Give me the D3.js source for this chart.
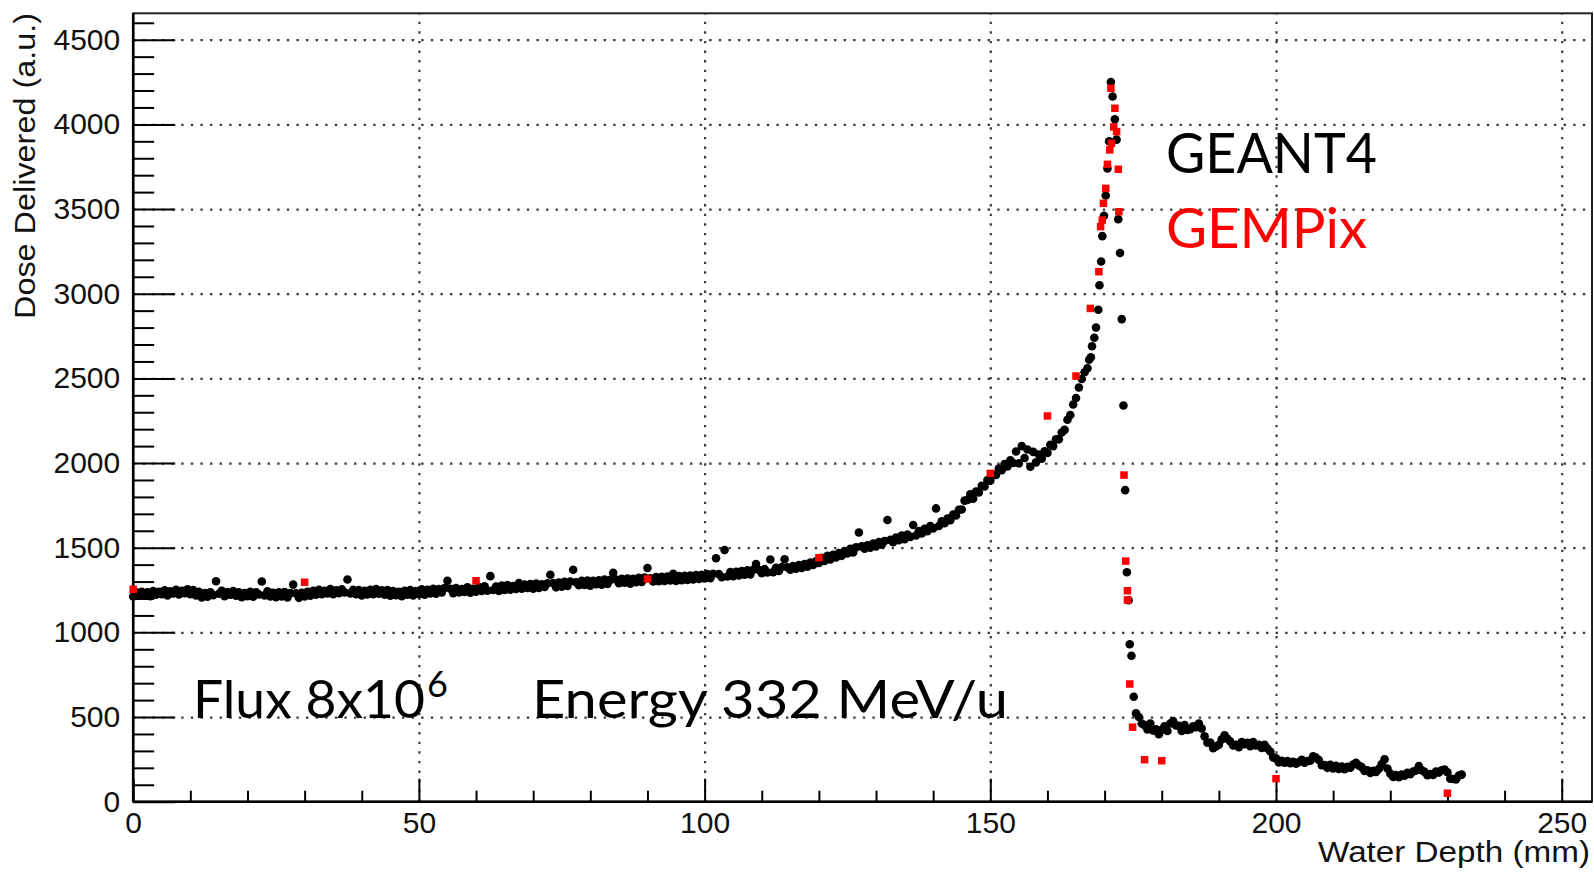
<!DOCTYPE html>
<html>
<head>
<meta charset="utf-8">
<script src="https://cdn.jsdelivr.net/npm/d3@7"></script>
<style>
  html, body { margin: 0; padding: 0; background: #fff; overflow: hidden; }
  svg { display: block; }
</style>
</head>
<body>
<svg id="chart" width="1594" height="872"></svg>
<script>
// ---- axis definitions ----
const xMajorTicks = [0, 50, 100, 150, 200, 250];
const yMajorTicks = [0, 500, 1000, 1500, 2000, 2500, 3000, 3500, 4000, 4500];
const xTitle = "Water Depth (mm)";
const yTitle = "Dose Delivered (a.u.)";

// ---- annotation texts ----
const seriesLabels = ["GEANT4", "GEMPix"];
const fluxLabel = "Flux 8x10";
const fluxExponent = "6";
const energyLabel = "Energy 332 MeV/u";

// ---- GEANT4 simulation: [depth (mm), dose (a.u.)] ----
const geant4 = [
  [0,1212],[0.5,1236],[1,1216],[1.5,1240],[2,1220],[2.5,1236],[3,1214],[3.5,1244],[4,1222],[4.5,1240],
  [5,1226],[5.5,1248],[6,1218],[6.5,1242],[7,1230],[7.5,1252],[8,1224],[8.5,1246],[9,1232],[9.5,1254],
  [10,1226],[10.5,1250],[11,1218],[11.5,1240],[12,1206],[12.5,1232],[13,1210],[13.5,1236],[14,1220],[14.5,1302],
  [15,1228],[15.5,1246],[16,1214],[16.5,1238],[17,1222],[17.5,1244],[18,1216],[18.5,1236],[19,1208],[19.5,1232],
  [20,1214],[20.5,1240],[21,1210],[21.5,1236],[22,1224],[22.5,1300],[23,1218],[23.5,1242],[24,1212],[24.5,1234],
  [25,1208],[25.5,1236],[26,1212],[26.5,1238],[27,1206],[27.5,1232],[28,1282],[28.5,1230],[29,1204],[29.5,1234],
  [30,1212],[30.5,1240],[31,1216],[31.5,1246],[32,1222],[32.5,1252],[33,1226],[33.5,1246],[34,1230],[34.5,1256],
  [35,1226],[35.5,1248],[36,1232],[36.5,1254],[37,1236],[37.5,1312],[38,1230],[38.5,1252],[39,1226],[39.5,1250],
  [40,1218],[40.5,1246],[41,1224],[41.5,1252],[42,1226],[42.5,1256],[43,1228],[43.5,1248],[44,1222],[44.5,1250],
  [45,1216],[45.5,1244],[46,1220],[46.5,1240],[47,1214],[47.5,1246],[48,1222],[48.5,1250],[49,1218],[49.5,1244],
  [50,1226],[50.5,1254],[51,1222],[51.5,1252],[52,1230],[52.5,1258],[53,1228],[53.5,1256],[54,1236],[54.5,1262],
  [55,1305],[55.5,1258],[56,1232],[56.5,1262],[57,1236],[57.5,1256],[58,1238],[58.5,1266],[59,1234],[59.5,1258],
  [60,1240],[60.5,1268],[61,1244],[61.5,1272],[62,1246],[62.5,1332],[63,1250],[63.5,1270],[64,1244],[64.5,1276],
  [65,1250],[65.5,1280],[66,1252],[66.5,1274],[67,1256],[67.5,1292],[68,1258],[68.5,1282],[69,1262],[69.5,1286],
  [70,1258],[70.5,1288],[71,1262],[71.5,1284],[72,1268],[72.5,1290],[73,1340],[73.5,1292],[74,1266],[74.5,1294],
  [75,1270],[75.5,1298],[76,1274],[76.5,1300],[77,1370],[77.5,1296],[78,1278],[78.5,1304],[79,1280],[79.5,1306],
  [80,1276],[80.5,1304],[81,1284],[81.5,1308],[82,1282],[82.5,1312],[83,1286],[83.5,1310],[84,1352],[84.5,1312],
  [85,1290],[85.5,1316],[86,1294],[86.5,1318],[87,1288],[87.5,1316],[88,1296],[88.5,1322],[89,1298],[89.5,1324],
  [90,1380],[90.5,1320],[91,1300],[91.5,1326],[92,1302],[92.5,1328],[93,1304],[93.5,1330],[94,1306],[94.5,1346],
  [95,1304],[95.5,1332],[96,1308],[96.5,1334],[97,1310],[97.5,1336],[98,1312],[98.5,1338],[99,1316],[99.5,1340],
  [100,1318],[100.5,1344],[101,1320],[101.5,1346],[102,1438],[102.5,1344],[103,1326],[103.5,1486],[104,1330],[104.5,1356],
  [105,1332],[105.5,1358],[106,1336],[106.5,1362],[107,1340],[107.5,1366],[108,1342],[108.5,1370],[109,1404],[109.5,1368],
  [110,1350],[110.5,1374],[111,1354],[111.5,1430],[112,1356],[112.5,1382],[113,1362],[113.5,1386],[114,1432],[114.5,1384],
  [115,1370],[115.5,1392],[116,1376],[116.5,1398],[117,1380],[117.5,1404],[118,1388],[118.5,1412],[119,1398],[119.5,1420],
  [120,1410],[120.5,1440],[121,1422],[121.5,1452],[122,1430],[122.5,1458],[123,1442],[123.5,1468],[124,1452],[124.5,1480],
  [125,1466],[125.5,1494],[126,1472],[126.5,1502],[127,1590],[127.5,1508],[128,1494],[128.5,1514],[129,1500],[129.5,1524],
  [130,1508],[130.5,1534],[131,1518],[131.5,1540],[132,1664],[132.5,1546],[133,1532],[133.5,1560],[134,1544],[134.5,1572],
  [135,1550],[135.5,1578],[136,1564],[136.5,1634],[137,1572],[137.5,1598],[138,1584],[138.5,1612],[139,1598],[139.5,1628],
  [140,1614],[140.5,1732],[141,1628],[141.5,1656],[142,1644],[142.5,1672],[143,1662],[143.5,1696],[144,1690],[144.5,1724],
  [145,1726],[145.5,1778],[146,1782],[146.5,1816],[147,1790],[147.5,1832],[148,1826],[148.5,1866],[149,1862],[149.5,1900],
  [150,1896],[150.5,1934],[151,1930],[151.5,1968],[152,1958],[152.5,1994],[153,1980],[153.5,2016],[154,2000],[154.5,2068],
  [155,1998],[155.5,2100],[156,2030],[156.5,2080],[157,1978],[157.5,2066],[158,2004],[158.5,2050],[159,2026],[159.5,2070],
  [160,2060],[160.5,2108],[161,2100],[161.5,2140],[162,2140],[162.5,2180],[163,2196],[163.5,2256],[164,2284],[164.5,2346],
  [165,2384],[165.5,2446],[166,2496],[166.5,2536],[167,2560],[167.3,2610],[167.6,2625],[167.8,2690],[168.2,2740],[168.5,2800],
  [168.9,2905],[169.1,3050],[169.4,3190],[169.6,3340],[169.9,3460],[170.2,3580],[170.5,3740],[170.8,3900],[171.1,4250],[171.4,4165],
  [171.8,4030],[172.1,3910],[172.4,3440],[172.7,3240],[173,2850],[173.3,2340],[173.6,1840],[173.9,1355],[174.2,1190],[174.4,930],
  [174.7,862],[175.1,620],[175.5,522],
  [176,500],[176.5,462],[177,452],[177.5,426],[178,462],[178.5,420],[179,428],[179.5,398],
  [180,424],[180.5,446],[181,418],[181.5,462],[182,476],[182.5,450],[183,448],[183.5,418],[184,452],[184.5,424],
  [185,428],[185.5,446],[186,440],[186.5,462],[187,432],[187.5,386],[188,348],[188.5,350],[189,316],[189.5,326],
  [190,336],[190.5,368],[191,392],[191.5,372],[192,356],[192.5,332],[193,336],[193.5,322],[194,352],[194.5,340],
  [195,348],[195.5,328],[196,352],[196.5,332],[197,336],[197.5,318],[198,336],[198.5,314],[199,296],[199.5,262],
  [200,256],[200.5,232],[201,242],[201.5,230],[202,240],[202.5,228],[203,236],[203.5,224],[204,234],[204.5,248],
  [205,230],[205.5,240],[206,242],[206.5,268],[207,260],[207.5,246],[208,216],[208.5,216],[209,200],[209.5,218],
  [210,196],[210.5,212],[211,194],[211.5,208],[212,192],[212.5,206],[213,200],[213.5,220],[214,230],[214.5,214],
  [215,204],[215.5,182],[216,186],[216.5,170],[217,182],[217.5,176],[218,194],[218.5,222],[219,250],[219.5,196],
  [220,166],[220.5,146],[221,158],[221.5,144],[222,160],[222.5,154],[223,170],[223.5,162],[224,178],[224.5,184],
  [225,210],[225.5,186],[226,176],[226.5,156],[227,164],[227.5,158],[228,178],[228.5,172],[229,186],[229.5,190],
  [230,174],[230.5,136],[231,134],[231.5,132],[232,154],[232.5,160]
];

// ---- GEMPix measurement: [depth (mm), dose (a.u.)] ----
const gempix = [
  [0,1254],[30,1296],[60,1305],[90,1315],[120,1441],[150,1939],[160,2278],[165,2514],
  [167.5,2913],[169,3130],[169.3,3396],[169.6,3435],[169.8,3534],[170.2,3622],[170.5,3764],
  [170.9,3849],[171.2,3888],[171.6,3985],[171.1,4213],[171.8,4095],[172.1,3957],[172.4,3735],
  [172.5,3484],[173.4,1929],[173.7,1421],[174,1246],[174,1191],[174.4,695],[174.9,440],
  [177,248],[180,242],[200,136],[230,50]
];

// ---- layout ----
const svg = d3.select("#chart");
const frame = { left: 133.2, right: 1592, top: 13.3, bottom: 801.7 };

const x = d3.scaleLinear().domain([0, 255.3]).range([frame.left, frame.right]);
const y = d3.scaleLinear().domain([0, 4656]).range([frame.bottom, frame.top]);

const axisFont = "'Liberation Sans', Arial, Helvetica, sans-serif";
const noteFont = "Lato, 'Open Sans', sans-serif";

svg.append("rect").attr("width", 1594).attr("height", 872).attr("fill", "#fff");

// dotted grid at the major ticks
const gridStyle = g => {
  g.select(".domain").remove();
  g.selectAll(".tick line")
    .attr("stroke", "#3c3c3c")
    .attr("stroke-width", 2.2)
    .attr("stroke-dasharray", "2.4 7.2");
};
svg.append("g")
  .attr("transform", `translate(0,${frame.bottom})`)
  .call(d3.axisBottom(x).tickValues(xMajorTicks.filter(v => v > 0))
        .tickSize(-(frame.bottom - frame.top)).tickFormat(""))
  .call(gridStyle);
svg.append("g")
  .attr("transform", `translate(${frame.left},0)`)
  .call(d3.axisLeft(y).tickValues(yMajorTicks.filter(v => v > 0))
        .tickSize(-(frame.right - frame.left)).tickFormat(""))
  .call(gridStyle);

// frame
svg.append("rect")
  .attr("x", frame.left).attr("y", frame.top)
  .attr("width", frame.right - frame.left).attr("height", frame.bottom - frame.top)
  .attr("fill", "none").attr("stroke", "#222").attr("stroke-width", 2);

// minor ticks
const xMinor = d3.range(0, 251, 10).filter(v => !xMajorTicks.includes(v));
const yMinor = d3.range(0, 4601, 100).filter(v => !yMajorTicks.includes(v));
const tickStyle = g => {
  g.select(".domain").remove();
  g.selectAll(".tick line").attr("stroke", "#000").attr("stroke-width", 2);
};
svg.append("g")
  .attr("transform", `translate(0,${frame.bottom})`)
  .call(d3.axisBottom(x).tickValues(xMinor).tickSize(-11).tickFormat(""))
  .call(tickStyle);
svg.append("g")
  .attr("transform", `translate(${frame.left},0)`)
  .call(d3.axisLeft(y).tickValues(yMinor).tickSize(-21).tickFormat(""))
  .call(tickStyle);

// major ticks with labels
const labelStyle = g => {
  g.selectAll(".tick text")
    .attr("font-family", axisFont).attr("font-size", 30).attr("fill", "#111");
};
svg.append("g")
  .attr("transform", `translate(0,${frame.bottom})`)
  .call(d3.axisBottom(x).tickValues(xMajorTicks).tickSize(-23).tickPadding(10).tickFormat(d3.format("d")))
  .call(tickStyle).call(labelStyle);
svg.append("g")
  .attr("transform", `translate(${frame.left},0)`)
  .call(d3.axisLeft(y).tickValues(yMajorTicks).tickSize(-42).tickPadding(13).tickFormat(d3.format("d")))
  .call(tickStyle).call(labelStyle);

// axis lines
svg.append("line")
  .attr("x1", frame.left).attr("x2", frame.right).attr("y1", frame.bottom).attr("y2", frame.bottom)
  .attr("stroke", "#000").attr("stroke-width", 2.6);
svg.append("line")
  .attr("x1", frame.left).attr("x2", frame.left).attr("y1", frame.top).attr("y2", frame.bottom)
  .attr("stroke", "#000").attr("stroke-width", 2.6);

// axis titles
svg.append("text")
  .attr("x", 1590).attr("y", 862)
  .attr("text-anchor", "end")
  .attr("font-family", axisFont).attr("font-size", 30).attr("fill", "#111")
  .attr("textLength", 272).attr("lengthAdjust", "spacingAndGlyphs")
  .text(xTitle);
svg.append("text")
  .attr("transform", "translate(35,13) rotate(-90)")
  .attr("text-anchor", "end")
  .attr("font-family", axisFont).attr("font-size", 30).attr("fill", "#111")
  .attr("textLength", 306).attr("lengthAdjust", "spacingAndGlyphs")
  .text(yTitle);

// GEANT4 markers
svg.append("g")
  .selectAll("circle")
  .data(geant4)
  .join("circle")
  .attr("cx", d => x(d[0]))
  .attr("cy", d => y(d[1]))
  .attr("r", 4.3)
  .attr("fill", "#000");

// GEMPix markers
const sq = 7.5;
svg.append("g")
  .selectAll("rect")
  .data(gempix)
  .join("rect")
  .attr("x", d => x(d[0]) - sq / 2)
  .attr("y", d => y(d[1]) - sq / 2)
  .attr("width", sq).attr("height", sq)
  .attr("fill", "#ff0000");

// series labels
svg.append("text")
  .attr("x", 1166).attr("y", 173)
  .attr("font-family", noteFont).attr("font-size", 56).attr("fill", "#000")
  .attr("textLength", 211).attr("lengthAdjust", "spacingAndGlyphs")
  .text(seriesLabels[0]);
svg.append("text")
  .attr("x", 1166).attr("y", 248)
  .attr("font-family", noteFont).attr("font-size", 56).attr("fill", "#ff0000")
  .attr("textLength", 201).attr("lengthAdjust", "spacingAndGlyphs")
  .text(seriesLabels[1]);

// beam conditions
svg.append("text")
  .attr("x", 193).attr("y", 718)
  .attr("font-family", noteFont).attr("font-size", 52).attr("fill", "#000")
  .attr("textLength", 232).attr("lengthAdjust", "spacingAndGlyphs")
  .text(fluxLabel);
svg.append("text")
  .attr("x", 427).attr("y", 697)
  .attr("font-family", noteFont).attr("font-size", 36).attr("fill", "#000")
  .text(fluxExponent);
svg.append("text")
  .attr("x", 532).attr("y", 718)
  .attr("font-family", noteFont).attr("font-size", 52).attr("fill", "#000")
  .attr("textLength", 476).attr("lengthAdjust", "spacingAndGlyphs")
  .text(energyLabel);
</script>
</body>
</html>
